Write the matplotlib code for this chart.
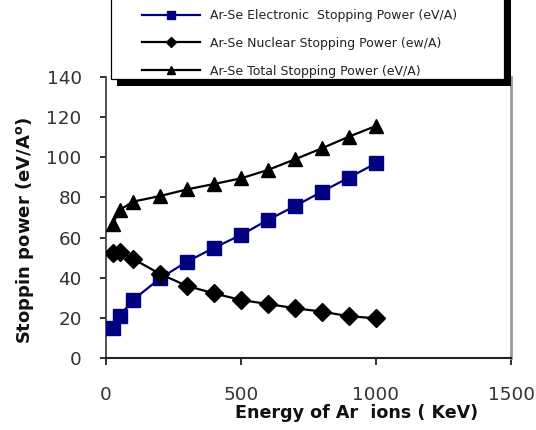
import matplotlib
matplotlib.use("Agg")
import matplotlib.pyplot as plt
from matplotlib.patches import Rectangle

# Ar ions in Se: stopping power versus ion energy
energy_kev = [25, 50, 100, 200, 300, 400, 500, 600, 700, 800, 900, 1000]
electronic = [14.8, 20.9, 28.9, 39.7, 48.0, 54.9, 61.3, 68.8, 75.7, 82.9, 89.9, 97.0]
nuclear = [52.5, 53.0, 49.4, 41.9, 35.9, 32.2, 28.9, 26.9, 24.8, 23.1, 20.8, 19.8]
total = [66.8, 73.7, 77.9, 80.7, 84.0, 86.7, 89.5, 93.7, 99.0, 104.5, 110.3, 115.6]

series_labels = [
    "Ar-Se Electronic  Stopping Power (eV/A)",
    "Ar-Se Nuclear Stopping Power (ew/A)",
    "Ar-Se Total Stopping Power (eV/A)",
]
x_ticks = [0, 500, 1000, 1500]
y_ticks = [0, 20, 40, 60, 80, 100, 120, 140]

W, H = 536, 430
fig = plt.figure(figsize=(W / 100, H / 100), dpi=100)
fig.patch.set_facecolor("white")


def fx(px):
    return px / W


def fy(py):
    return 1 - py / H


ax = fig.add_axes([fx(106), fy(358), fx(511) - fx(106), fy(77) - fy(358)])

navy = "#000080"
l_el, = ax.plot(energy_kev, electronic, color=navy, lw=1.6, marker="s", ms=9.5,
                mfc=navy, mec=navy, label=series_labels[0], zorder=3)
l_nu, = ax.plot(energy_kev, nuclear, color="black", lw=1.6, marker="D", ms=9.0,
                mfc="black", mec="black", label=series_labels[1], zorder=4)
l_to, = ax.plot(energy_kev, total, color="black", lw=1.6, marker="^", ms=10.5,
                mfc="black", mec="black", label=series_labels[2], zorder=5)

ax.set_xlim(0, 1500)
ax.set_ylim(0, 140)
ax.set_xticks(x_ticks)
ax.set_yticks(y_ticks)

tick_font = dict(family="DejaVu Sans", size=13.2)
ax.set_xticklabels([str(v) for v in x_ticks], fontdict=tick_font, color="#333333")
ax.set_yticklabels([str(v) for v in y_ticks], fontdict=tick_font, color="#333333")
ax.tick_params(axis="x", direction="out", length=5, width=1.3, pad=15, color="#222222")
ax.tick_params(axis="y", direction="out", length=4.5, width=1.3, pad=13, color="#222222")

ax.spines["top"].set_visible(False)
ax.spines["left"].set_color("#444444")
ax.spines["left"].set_linewidth(1.3)
ax.spines["bottom"].set_color("#222222")
ax.spines["bottom"].set_linewidth(1.5)
ax.spines["right"].set_color("#9a9a9a")
ax.spines["right"].set_linewidth(2)

# axis titles
fig.text(fx(357), fy(418), "Energy of Ar  ions ( KeV)", ha="center", va="baseline",
         family="DejaVu Sans", weight="bold", size=12.6, color="#111111")
fig.text(fx(25), fy(230), r"Stoppin power (eV/A$^{\mathbf{o}}$)", ha="center", va="center",
         rotation=90, family="DejaVu Sans", weight="bold", size=13, color="#111111")

# legend panel with a heavy drop shadow
fig.patches.append(Rectangle((fx(117), fy(85.5)), fx(510.5) - fx(117), 1.2,
                             transform=fig.transFigure, facecolor="black",
                             edgecolor="none", zorder=5))
fig.patches.append(Rectangle((fx(110.5), fy(79)), fx(504) - fx(110.5), 1.2,
                             transform=fig.transFigure, facecolor="white",
                             edgecolor="black", linewidth=0.9, zorder=6))

leg = fig.legend(handles=[l_el, l_nu, l_to], loc="upper left",
                 bbox_to_anchor=(fx(142), fy(9)), bbox_transform=fig.transFigure,
                 frameon=False, borderpad=0, borderaxespad=0,
                 handlelength=4.65, handletextpad=0.8, labelspacing=1.18,
                 markerscale=0.6, prop=dict(family="DejaVu Sans", size=9))
leg.set_zorder(10)
for t in leg.get_texts():
    t.set_color("#222222")

fig.savefig("out.png", dpi=100)
